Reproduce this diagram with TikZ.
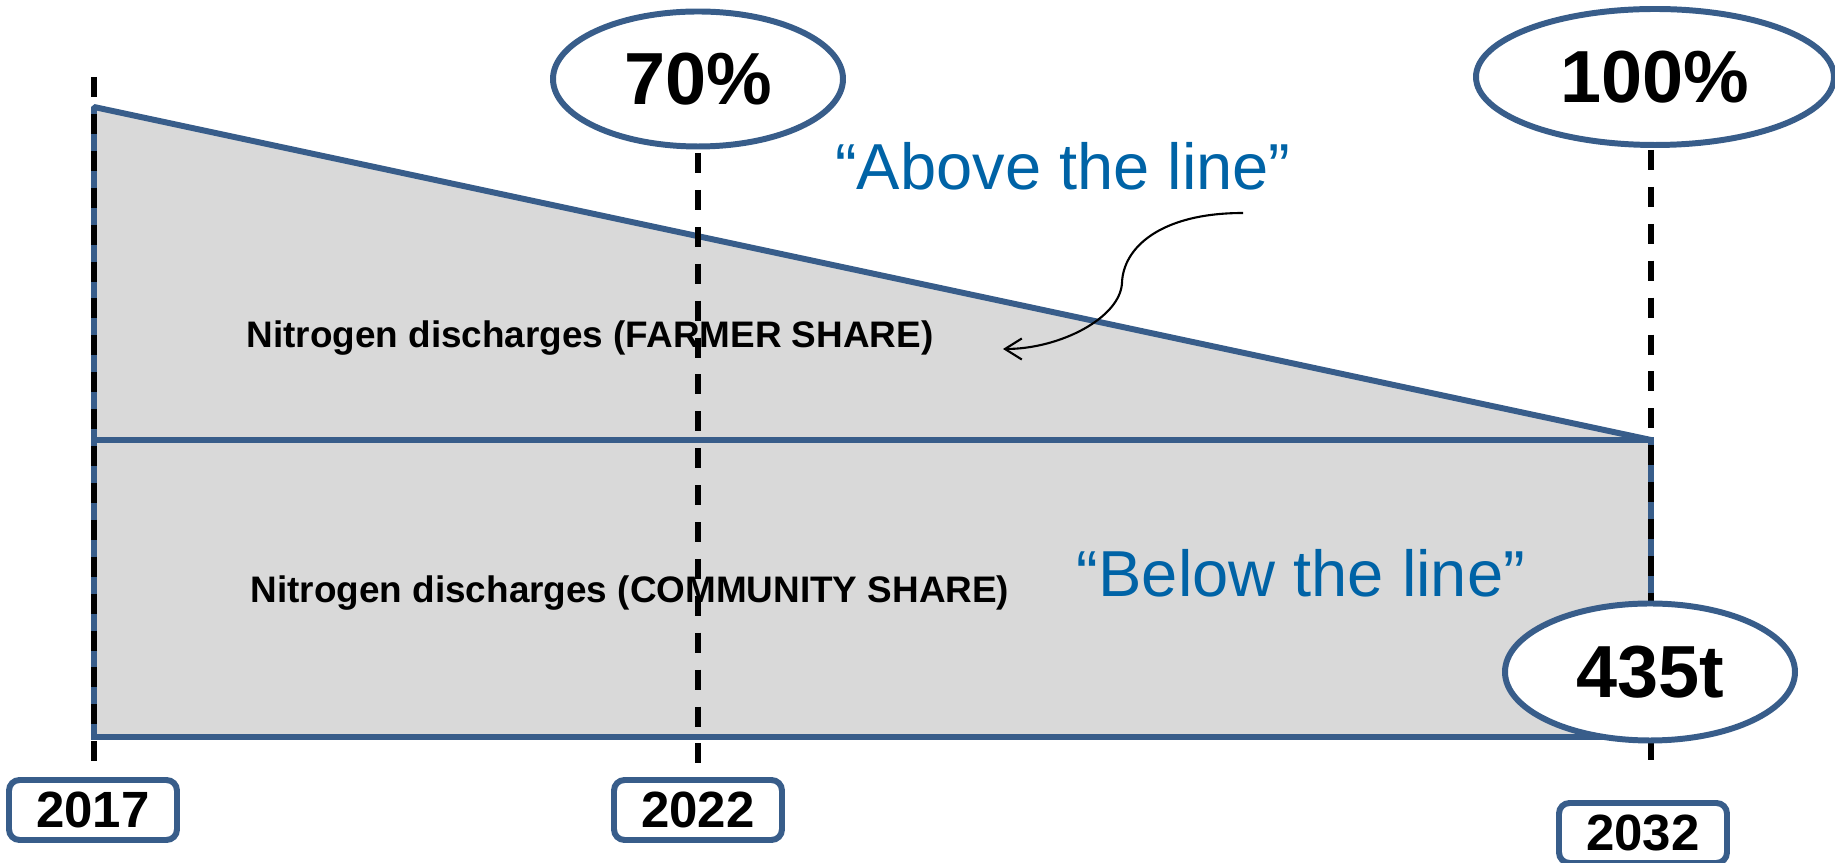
\documentclass[tikz,border=0pt]{standalone}
\usepackage{fontspec}
\setmainfont{Liberation Sans}
\usepackage{tikz}
\usetikzlibrary{arrows.meta,shapes.geometric}
\definecolor{shareblue}{RGB}{56,93,138}
\definecolor{sharegrey}{RGB}{217,217,217}
\definecolor{quoteblue}{RGB}{0,99,166}
\tikzset{every picture/.style={line width=1.7pt}}

\begin{document}
\begin{tikzpicture}[x=1cm,y=1cm,
 outline/.style={draw=shareblue,line width=1.7pt},
 bubble/.style={ellipse,outline,fill=white,inner sep=0pt,
  minimum width=2.9cm,minimum height=1.35cm,
  font=\fontsize{21}{25}\selectfont\bfseries},
 yearbox/.style={rectangle,rounded corners=3pt,outline,fill=white,
  inner sep=0pt,minimum width=1.68cm,minimum height=.6cm,
  font=\fontsize{14.5}{17}\selectfont\bfseries},
 marker/.style={dash pattern=on 5.7pt off 4.8pt,line width=1.5pt},
 sharelabel/.style={anchor=base,font=\fontsize{10.5}{12}\selectfont\bfseries},
 linequote/.style={anchor=base,text=quoteblue,font=\fontsize{18.5}{22}\selectfont}]
 \useasboundingbox (0,0) rectangle (18.35,8.63);
 % farmer wedge and community block
 \filldraw[fill=sharegrey,outline,line join=bevel] (0.94,7.56) -- (16.51,4.23) -- (0.94,4.23) -- cycle;
 \filldraw[fill=sharegrey,outline] (0.94,4.23) rectangle (16.51,1.26);
 \node[bubble] (p70) at (6.98,7.84) {70\%};
 \node[bubble,minimum width=3.58cm,minimum height=1.36cm] (p100) at (16.55,7.86) {100\%};
 \node[yearbox] (y17) at (0.93,0.53) {2017};
 \node[yearbox] (y22) at (6.98,0.53) {2022};
 \node[yearbox] (y32) at (16.43,0.30) {2032};
 % year markers
 \coordinate (top17) at (0.94,7.86);
 \coordinate (top32) at (16.51,7.13);
 \draw[marker,shorten >=2pt] (top17) -- (top17 |- y17.north);
 \draw[marker,shorten <=1pt,shorten >=2pt] (p70.south) -- (y22.north);
 \draw[marker,shorten >=2pt] (top32) -- (top32 |- y22.north);
 \node[bubble,minimum height=1.37cm] (t435) at (16.50,1.91) {435t};
 \node[sharelabel] (farmer) at (5.90,5.15) {Nitrogen discharges (FARMER SHARE)};
 \node[sharelabel] (community) at (6.30,2.60) {Nitrogen discharges (COMMUNITY SHARE)};
 \node[linequote] (above) at (10.63,6.73) {“Above the line”};
 \node[linequote] (below) at (13.01,2.66) {“Below the line”};
 \coordinate (curlstart) at (12.43,6.50);
 \coordinate (curltip) at (10.03,5.14);
 \draw[-{Straight Barb[length=4.8pt,width=6pt]},line width=.6pt] (curlstart)
  .. controls (11.60,6.50) and (11.23,6.15) .. (11.22,5.80)
  .. controls (11.20,5.45) and (10.60,5.14) .. (curltip);
\end{tikzpicture}
\end{document}
